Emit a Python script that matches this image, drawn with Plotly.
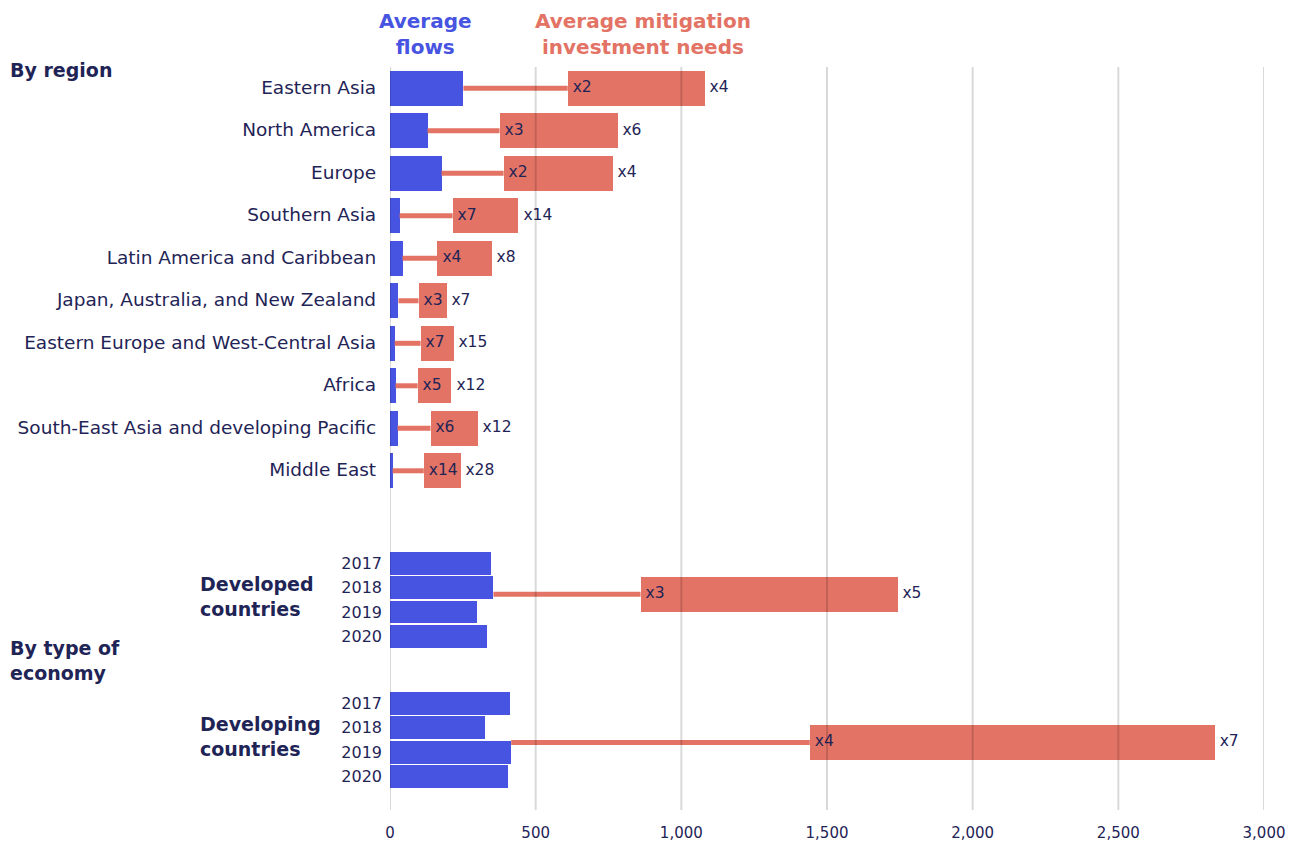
import plotly.graph_objects as go

# ---------------- data ----------------
regions = ["Eastern Asia", "North America", "Europe", "Southern Asia",
           "Latin America and Caribbean", "Japan, Australia, and New Zealand",
           "Eastern Europe and West-Central Asia", "Africa",
           "South-East Asia and developing Pacific", "Middle East"]
region_flows = [252, 129, 177, 33, 43, 29, 16, 19, 26, 9]
region_needs_low = [610, 376, 390, 215, 163, 98, 105, 95, 139, 116]
region_needs_high = [1080, 781, 764, 441, 349, 194, 218, 211, 301, 242]
region_mult_low = ["x2", "x3", "x2", "x7", "x4", "x3", "x7", "x5", "x6", "x14"]
region_mult_high = ["x4", "x6", "x4", "x14", "x8", "x7", "x15", "x12", "x12", "x28"]

economies = ["Developed<br>countries", "Developing<br>countries"]
years = ["2017", "2018", "2019", "2020"]
developed_flows = [348, 355, 299, 333]
developing_flows = [413, 327, 416, 406]
economy_needs_low = [860, 1441]
economy_needs_high = [1742, 2831]
economy_mult_low = ["x3", "x4"]
economy_mult_high = ["x5", "x7"]

x_ticks = [0, 500, 1000, 1500, 2000, 2500, 3000]

# ---------------- styling / layout ----------------
BLUE = "#4754E1"
RED = "#E37365"
NAVY = "#1F2456"
FONT = "DejaVu Sans"

region_y = list(range(len(regions)))
year_step = 0.572
group_start = [11.18, 14.475]
econ_year_y = [[g + k * year_step for k in range(len(years))] for g in group_start]
econ_red_y = [11.906, 15.393]
econ_flows = [developed_flows, developing_flows]

fig = go.Figure()

# connector lines
lx, ly = [], []
for f, lo, y in zip(region_flows, region_needs_low, region_y):
    lx += [f, lo, None]
    ly += [y, y, None]
for fl, lo, y in zip(econ_flows, economy_needs_low, econ_red_y):
    lx += [max(fl), lo, None]
    ly += [y, y, None]
fig.add_trace(go.Scatter(x=lx, y=ly, mode="lines", line=dict(color=RED, width=5),
                         hoverinfo="skip", showlegend=False))

# blue flows (regions)
fig.add_trace(go.Bar(x=region_flows, y=region_y, orientation="h", width=0.816,
                     marker=dict(color=BLUE, line=dict(width=0)), showlegend=False))
# blue flows (economy years)
for fl, ys in zip(econ_flows, econ_year_y):
    fig.add_trace(go.Bar(x=fl, y=ys, orientation="h", width=0.534,
                         marker=dict(color=BLUE, line=dict(width=0)), showlegend=False))

# red needs bars
fig.add_trace(go.Bar(x=[h - l for h, l in zip(region_needs_high, region_needs_low)],
                     base=region_needs_low, y=region_y, orientation="h", width=0.816,
                     marker=dict(color=RED, line=dict(width=0)), showlegend=False))
fig.add_trace(go.Bar(x=[h - l for h, l in zip(economy_needs_high, economy_needs_low)],
                     base=economy_needs_low, y=econ_red_y, orientation="h", width=0.816,
                     marker=dict(color=RED, line=dict(width=0)), showlegend=False))

# multiplier labels
lab_font = dict(family=FONT, size=15.5, color=NAVY)
NB = "\u00a0"
fig.add_trace(go.Scatter(x=region_needs_low + economy_needs_low, y=region_y + econ_red_y,
                         mode="text", text=[NB + t for t in region_mult_low + economy_mult_low],
                         textposition="middle right", textfont=lab_font,
                         hoverinfo="skip", showlegend=False))
fig.add_trace(go.Scatter(x=region_needs_high + economy_needs_high, y=region_y + econ_red_y,
                         mode="text", text=[NB + t for t in region_mult_high + economy_mult_high],
                         textposition="middle right", textfont=lab_font,
                         hoverinfo="skip", showlegend=False))

# y tick labels
tickvals = region_y + econ_year_y[0] + econ_year_y[1]
ticktext = ['<span style="font-size:18.5px">' + r + NB + "</span>" for r in regions] + years + years

L, R, T, B = 390, 37, 67, 33
W, H = 1301, 843
pw, ph = W - L - R, H - T - B

def px_x(px):
    return (px - L) / pw

def px_y(py):
    return (H - B - py) / ph

# gridlines above traces
shapes = [dict(type="line", xref="x", yref="paper", x0=t, x1=t, y0=0, y1=1,
               line=dict(color="rgba(0,0,0,0.15)", width=2), layer="above")
          for t in x_ticks]

annotations = [
    dict(text="<b>Average<br>flows</b>", x=px_x(425.5), y=px_y(34), xref="paper", yref="paper",
         xanchor="center", yanchor="middle", showarrow=False,
         font=dict(family=FONT, size=20, color=BLUE)),
    dict(text="<b>Average mitigation<br>investment needs</b>", x=px_x(643), y=px_y(34),
         xref="paper", yref="paper", xanchor="center", yanchor="middle", showarrow=False,
         font=dict(family=FONT, size=20, color=RED)),
    dict(text="<b>By region</b>", x=px_x(8), y=px_y(70), xref="paper", yref="paper",
         xanchor="left", yanchor="middle", showarrow=False, align="left",
         font=dict(family=FONT, size=19, color=NAVY)),
    dict(text="<b>By type of<br>economy</b>", x=px_x(8), y=px_y(660), xref="paper", yref="paper",
         xanchor="left", yanchor="middle", showarrow=False, align="left",
         font=dict(family=FONT, size=19, color=NAVY)),
]
for name, py in zip(economies, [596, 736]):
    annotations.append(dict(text="<b>" + name + "</b>", x=px_x(198), y=px_y(py),
                            xref="paper", yref="paper", xanchor="left", yanchor="middle",
                            showarrow=False, align="left",
                            font=dict(family=FONT, size=19, color=NAVY)))

fig.update_layout(
    width=W, height=H,
    margin=dict(l=L, r=R, t=T, b=B, autoexpand=False),
    plot_bgcolor="white", paper_bgcolor="white",
    barmode="overlay",
    bargap=0,
    font=dict(family=FONT, color=NAVY, size=16),
    xaxis=dict(range=[0, 3000], tickvals=x_ticks, tickformat=",", showgrid=False,
               zeroline=False, showline=False, ticks="", ticklabelstandoff=12,
               automargin=False,
               tickfont=dict(family=FONT, size=15, color=NAVY), fixedrange=True),
    yaxis=dict(range=[16.98, -0.5], tickvals=tickvals, ticktext=ticktext,
               showgrid=False, zeroline=False, showline=False, ticks="",
               ticklabelstandoff=7, automargin=False,
               tickfont=dict(family=FONT, size=16, color=NAVY),
               fixedrange=True),
    shapes=shapes,
    annotations=annotations,
)

fig.write_html("out.html", config={"displayModeBar": False},
               post_script="document.body.style.margin='0px';")
